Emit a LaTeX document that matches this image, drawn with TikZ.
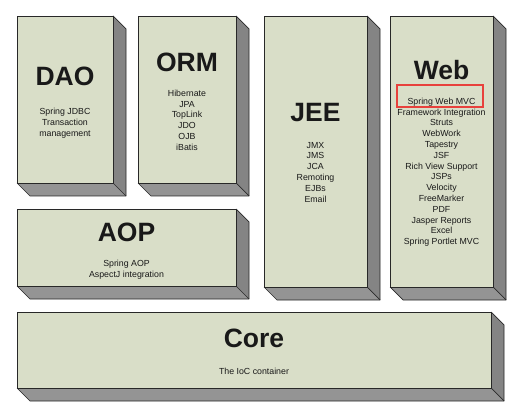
\documentclass[tikz,border=0pt]{standalone}
\usepackage{fontspec}
\setmainfont{Liberation Sans}
\definecolor{frontc}{RGB}{217,222,200}
\definecolor{sidec}{RGB}{132,132,132}
\definecolor{bottomc}{RGB}{148,148,148}
\definecolor{edgec}{RGB}{40,40,40}
\definecolor{textc}{RGB}{25,25,25}
\definecolor{hlred}{RGB}{232,65,60}
\newcommand{\springcube}[4]{%
  \fill[sidec] (#3,#2) -- (#3+13,#2+13) -- (#3+13,#4+13) -- (#3,#4) -- cycle;
  \fill[bottomc] (#1,#4) -- (#3,#4) -- (#3+13,#4+13) -- (#1+13,#4+13) -- cycle;
  \draw[edgec,line width=0.7pt,line join=round] (#3,#2) -- (#3+13,#2+13) -- (#3+13,#4+13) -- (#1+13,#4+13) -- (#1,#4);
  \draw[edgec,line width=0.7pt] (#3,#4) -- (#3+13,#4+13);
  \filldraw[fill=frontc,draw=edgec,line width=0.7pt] (#1,#2) rectangle (#3,#4);
}
\begin{document}
\begin{tikzpicture}[x=1pt,y=-1pt,
  title/.style={font=\bfseries\fontsize{26.5}{30}\selectfont,text=textc,inner sep=0pt,anchor=center},
  items/.style={font=\fontsize{8.8}{10.8}\selectfont,text=textc,inner sep=0pt,align=center,anchor=north}]
\useasboundingbox (0,0) rectangle (510,411);
\fill[white] (0,0) rectangle (510,411);
\springcube{17}{16}{113}{183}
\springcube{138}{16}{236}{183}
\springcube{264}{16}{367}{287}
\springcube{390}{16}{493}{287}
\springcube{17}{209}{236}{286}
\springcube{17}{312}{491}{388}

\node[title] (daot) at (65,76) {DAO};
\node[items] (daoi) at (65,108.4) {Spring JDBC\\Transaction\\management};
\node[title] (ormt) at (187,62) {ORM};
\node[items] (ormi) at (187,89.8) {Hibernate\\JPA\\TopLink\\JDO\\OJB\\iBatis};
\node[title] (jeet) at (315.5,113) {JEE};
\node[items] (jeei) at (315.5,141.8) {JMX\\JMS\\JCA\\Remoting\\EJBs\\Email};
\node[title] (webt) at (441.5,70) {Web};
\node[items] (webi) at (441.5,97.8) {Spring Web MVC\\Framework Integration\\Struts\\WebWork\\Tapestry\\JSF\\Rich View Support\\JSPs\\Velocity\\FreeMarker\\PDF\\Jasper Reports\\Excel\\Spring Portlet MVC};
\node[title] (aopt) at (126.5,232) {AOP};
\node[items] (aopi) at (126.5,259.8) {Spring AOP\\AspectJ integration};
\node[title] (coret) at (254,338) {Core};
\node[items] (corei) at (254,367.5) {The IoC container};
\draw[hlred,line width=2pt] (397,85) rectangle (483,107);
\end{tikzpicture}
\end{document}
